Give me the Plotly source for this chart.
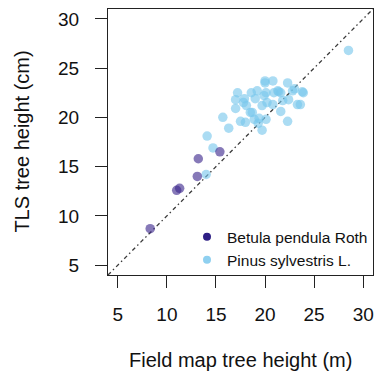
import plotly.graph_objects as go

# ---- data ----
betula_field = [8.3, 11.0, 11.3, 13.2, 13.1, 15.4]
betula_tls = [8.7, 12.6, 12.8, 15.8, 14.0, 16.5]

pinus_field = [14.0, 14.1, 14.7, 15.7, 16.3, 17.0, 17.0, 17.2, 17.9, 17.8,
               17.5, 18.0, 18.1, 18.5, 18.6, 19.2, 19.0, 18.9, 19.3, 19.7,
               19.7, 20.0, 20.1, 19.9, 20.2, 20.8, 20.8, 20.9, 21.3, 21.6,
               21.6, 21.8, 22.3, 22.3, 22.4, 22.8, 23.3, 23.6, 23.9, 23.8,
               28.5, 20.1, 19.4, 18.7, 20.0, 21.4, 23.0]
pinus_tls = [14.2, 18.1, 16.9, 20.0, 18.9, 20.9, 21.8, 22.5, 21.9, 21.5,
             19.6, 19.5, 21.2, 20.5, 22.5, 22.7, 21.9, 19.8, 19.4, 18.7,
             21.2, 23.5, 22.5, 22.2, 21.5, 23.7, 21.3, 22.5, 22.7, 22.5,
             20.6, 21.7, 23.5, 19.6, 21.8, 22.7, 21.3, 21.3, 22.5, 22.6,
             26.8, 19.8, 19.9, 20.5, 23.7, 22.6, 22.9]

one_to_one = [4, 31]
tick_vals = [5, 10, 15, 20, 25, 30]
tick_text = ["5", "10", "15", "20", "25", "30"]
axis_range = [4, 31]

FONT = "Liberation Sans, Arial, sans-serif"

fig = go.Figure()

fig.add_trace(go.Scatter(
    x=one_to_one, y=one_to_one, mode="lines",
    line=dict(color="#3a3a3a", width=1.3, dash="4px,3px,1.5px,3px"),
    showlegend=False, hoverinfo="skip"))

fig.add_trace(go.Scatter(
    x=pinus_field, y=pinus_tls, mode="markers",
    marker=dict(size=9.5, color="rgba(120,198,236,0.62)", line=dict(width=0)),
    showlegend=False))

fig.add_trace(go.Scatter(
    x=betula_field, y=betula_tls, mode="markers",
    marker=dict(size=9.5, color="rgba(60,38,140,0.62)", line=dict(width=0)),
    showlegend=False))

# legend entries (opaque symbols as in reference)
fig.add_trace(go.Scatter(
    x=[None], y=[None], mode="markers", name="Betula pendula Roth",
    marker=dict(size=8, color="#2e1f85")))
fig.add_trace(go.Scatter(
    x=[None], y=[None], mode="markers", name="Pinus sylvestris L.",
    marker=dict(size=8, color="#8fd0f0")))

axis_common = dict(
    range=axis_range, tickmode="array", tickvals=tick_vals, ticktext=tick_text,
    showgrid=False, zeroline=False, showline=True, linecolor="#222",
    linewidth=1.3, mirror=True, ticks="outside", ticklen=12, tickwidth=1.2,
    tickcolor="#222", tickfont=dict(family=FONT, size=19, color="#111"),
)

fig.update_layout(
    width=377, height=377,
    margin=dict(l=108, r=4, t=9, b=102),
    paper_bgcolor="white", plot_bgcolor="white",
    font=dict(family=FONT, color="#111"),
    xaxis=dict(**axis_common, ticklabelstandoff=10),
    yaxis=dict(**axis_common, ticklabelstandoff=12),
    legend=dict(x=1.0, xanchor="right", y=-0.008, yanchor="bottom",
                bgcolor="rgba(0,0,0,0)", borderwidth=0,
                font=dict(family=FONT, size=15.5, color="#111"),
                tracegroupgap=0, itemwidth=30),
    showlegend=True,
    annotations=[
        dict(text="Field map tree height (m)", xref="paper", yref="paper",
             x=0.5, y=-0.318, xanchor="center", yanchor="middle",
             showarrow=False, font=dict(family=FONT, size=20, color="#111")),
        dict(text="TLS tree height (cm)", xref="paper", yref="paper",
             x=-0.326, y=0.5, xanchor="center", yanchor="middle",
             textangle=-90, showarrow=False,
             font=dict(family=FONT, size=20, color="#111")),
    ],
)

fig.write_html("out.html")
